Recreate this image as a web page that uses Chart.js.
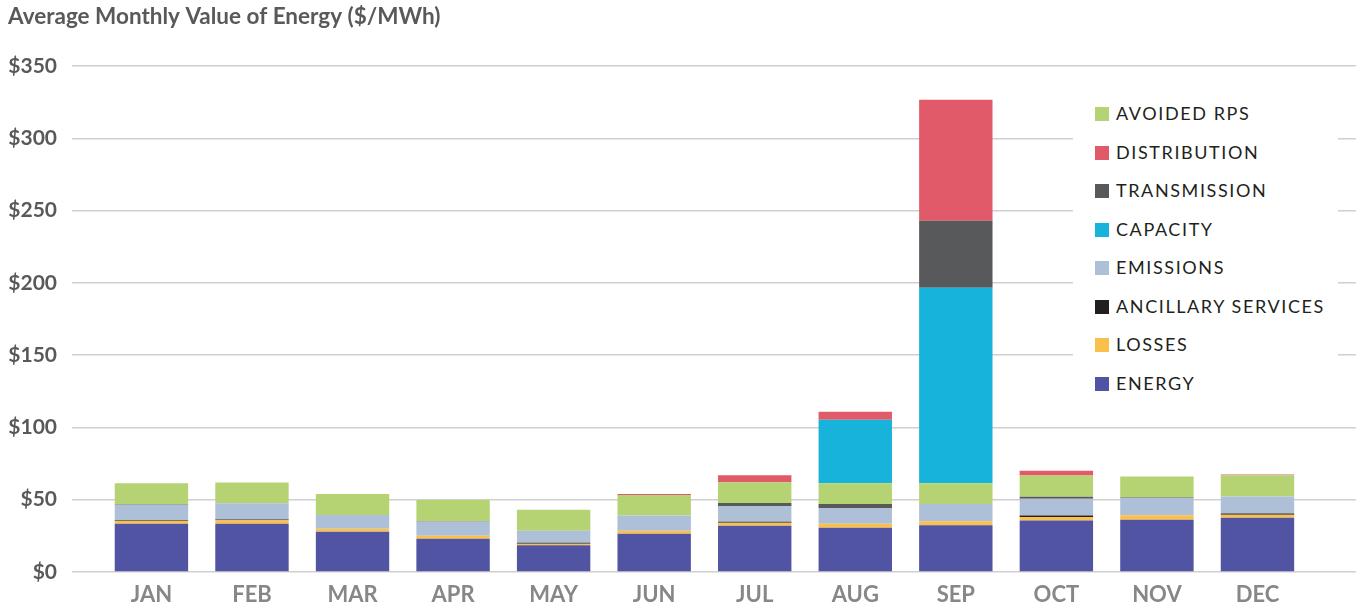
<!DOCTYPE html>
<html>
<head>
<meta charset="utf-8">
<script src="https://cdn.jsdelivr.net/npm/chart.js@4.4.1/dist/chart.umd.min.js"></script>
<style>
  html, body { margin:0; padding:0; background:#fff; }
  #wrap { position:relative; width:1356px; height:607px; }
  #legend { position:absolute; left:1073px; top:94px; width:265px; background:#fff;
            font-family:Lato, sans-serif; font-size:18px; color:#231f20; letter-spacing:1.6px; }
  #legend .item { height:38.5px; line-height:38.5px; padding-left:22px; white-space:nowrap; }
  #legend .sw { display:inline-block; width:14px; height:14px; margin-right:7px; vertical-align:-1px; }
</style>
</head>
<body>
<div id="wrap">
  <canvas id="chart" width="1356" height="607"></canvas>
  <div id="legend"></div>
</div>
<script>
// === Datos ===
const months = ['JAN','FEB','MAR','APR','MAY','JUN','JUL','AUG','SEP','OCT','NOV','DEC'];
const energy       = [33.4,33.4,27.9,23.0,18.5,26.5,32.0,30.6,32.4,35.6,36.2,37.6];
const losses       = [2.0,2.4,2.0,2.0,1.1,2.0,2.0,2.7,2.7,2.5,3.0,2.0];
const ancillary    = [0.6,0.6,0,0,0.6,0,0.7,0,0,0.9,0,0.8];
const emissions    = [10.6,11.1,9.6,10.0,8.3,10.5,11.0,11.0,11.9,11.6,12.0,11.8];
const transmission = [0.3,0,0,0.3,0,0,2.0,2.7,46.3,1.4,0.3,0];
const avoidedRps   = [14.5,14.4,14.5,14.5,14.5,14.2,14.3,14.4,14.4,14.8,14.5,14.7];
const capacity     = [0,0,0,0,0,0,0,43.9,135.3,0,0,0];
const distribution = [0,0,0,0,0,0.8,5.0,5.5,83.6,3.2,0,0.6];
// months where transmission sits above capacity
const transmissionAbove = ['SEP'];
const yTicks = [0,50,100,150,200,250,300,350];

const colors = {
  'ENERGY':'#5153a3', 'LOSSES':'#fbc04b', 'ANCILLARY SERVICES':'#231f20', 'EMISSIONS':'#adc0d8',
  'CAPACITY':'#17b3da', 'TRANSMISSION':'#58595b', 'DISTRIBUTION':'#e05a69', 'AVOIDED RPS':'#b5d373'
};
const legendOrder = ['AVOIDED RPS','DISTRIBUTION','TRANSMISSION','CAPACITY','EMISSIONS','ANCILLARY SERVICES','LOSSES','ENERGY'];

const pts = arr => arr.map((v,i) => ({x:i, y:v}));
const transLow  = transmission.map((v,i) => transmissionAbove.includes(months[i]) ? 0 : v);
const transHigh = transmission.map((v,i) => transmissionAbove.includes(months[i]) ? v : 0);

const series = [
  ['ENERGY', energy], ['LOSSES', losses], ['ANCILLARY SERVICES', ancillary], ['EMISSIONS', emissions],
  ['TRANSMISSION', transLow], ['AVOIDED RPS', avoidedRps], ['CAPACITY', capacity],
  ['TRANSMISSION', transHigh], ['DISTRIBUTION', distribution]
];

// === Gráfico de barras apiladas ===
new Chart(document.getElementById('chart'), {
  type: 'bar',
  data: {
    datasets: series.map(([label, arr]) => ({
      label, data: pts(arr), backgroundColor: colors[label],
      barPercentage: 0.73, categoryPercentage: 1, borderWidth: 0
    }))
  },
  options: {
    responsive:false, animation:false,
    layout:{ padding:{ left:8, right:0, top:0, bottom:0 } },
    plugins:{
      legend:{ display:false }, tooltip:{ enabled:false },
      title:{ display:true, text:'Average Monthly Value of Energy ($/MWh)', align:'start',
              color:'#58595b', font:{ family:'Lato', weight:'bold', size:22.5 },
              padding:{ top:3, bottom:36 } }
    },
    scales:{
      x:{ type:'linear', stacked:true, offset:false, min:-0.79, max:11.98,
          afterFit: s => { s.height = 35; },
          grid:{ display:false, drawTicks:false }, border:{ display:false },
          ticks:{ stepSize:1, includeBounds:false, autoSkip:false, maxRotation:0, padding:10,
                  color:'#87878a', font:{ family:'Lato', weight:'bold', size:22 },
                  callback: v => Number.isInteger(v) ? months[v] : '' } },
      y:{ stacked:true, min:0, max:350,
          afterBuildTicks: s => { s.ticks = yTicks.map(v => ({value:v})); },
          afterFit: s => { s.width = 64; },
          grid:{ color:'#cfcfcf', lineWidth:1.5, drawTicks:false }, border:{ display:false },
          ticks:{ padding:15, color:'#58595b', font:{ family:'Lato', weight:'bold', size:21 },
                  callback: v => '$' + v } }
    }
  }
});

// === Leyenda ===
document.getElementById('legend').innerHTML = legendOrder.map(l =>
  `<div class="item"><span class="sw" style="background:${colors[l]}"></span>${l}</div>`).join('');
</script>
</body>
</html>
